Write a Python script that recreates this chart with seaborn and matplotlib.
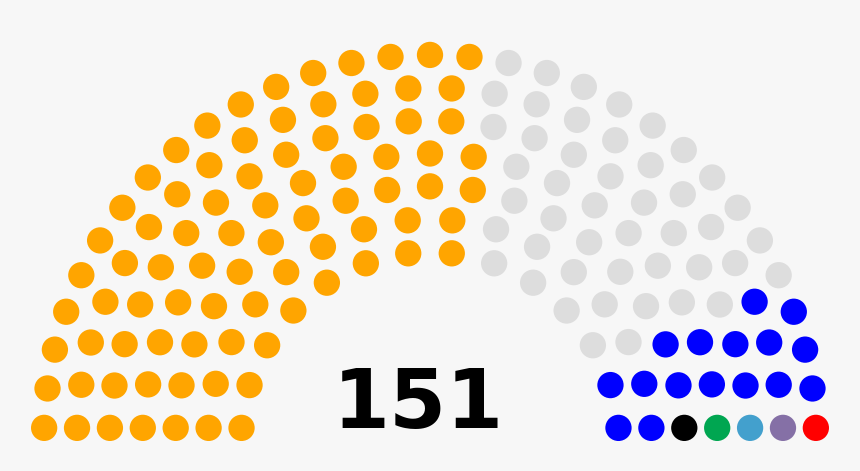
import math
import numpy as np
import pandas as pd
import seaborn as sns
import matplotlib
matplotlib.use("Agg")
import matplotlib.pyplot as plt

# seats per party, in the order they are laid out (left to right)
parties = ["Orange", "Grey", "Blue", "Black", "Green", "Light blue", "Purple", "Red"]
seats = [84, 46, 16, 1, 1, 1, 1, 1]
colors = ["#FFA500", "#DDDDDD", "#0000FF", "#000000", "#00A651", "#43A0CD", "#8570A6", "#FF0000"]
total_label = "151"

# row capacities used by the arch layout
totals = [3, 15, 33, 61, 95, 138, 189, 247, 313, 388, 469, 559]


def arch_positions(n):
    '''
    Seat centres for an n-seat half circle, sorted left to right
    '''
    rows = next(i for i, t in enumerate(totals) if n <= t) + 1
    radius = 0.4 / rows
    pos = []
    for i in range(1, rows):
        J = int(float(n) / totals[rows - 1] * math.pi / (2 * math.asin(2.0 / (3.0 * rows + 4.0 * i - 2.0))))
        R = (3.0 * rows + 4.0 * i - 2.0) / (4.0 * rows)
        for j in range(J):
            a = j * (math.pi - 2.0 * math.sin(radius / R)) / (J - 1.0) + math.sin(radius / R)
            pos.append((a, R * math.cos(a), R * math.sin(a)))
    J = n - len(pos)
    R = (7.0 * rows - 2.0) / (4.0 * rows)
    for j in range(J):
        a = j * (math.pi - 2.0 * math.sin(radius / R)) / (J - 1.0) + math.sin(radius / R)
        pos.append((a, R * math.cos(a), R * math.sin(a)))
    pos.sort(reverse=True)
    return pos, radius


n_seats = sum(seats)
pos, dot_r = arch_positions(n_seats)
df = pd.DataFrame(pos, columns=["angle", "x", "y"])
df["party"] = np.repeat(parties, seats)

fig = plt.figure(figsize=(8.6, 4.71), dpi=100, facecolor="#F7F7F7")
ax = fig.add_axes([0, 0, 1, 1])
ax.set_facecolor("#F7F7F7")

scale = 230.0  # pixels per unit
ax.set_xlim(-430 / scale, 430 / scale)
ax.set_ylim(-30 / scale, 441 / scale)

# marker diameter in points
diam_pt = 2 * dot_r * scale * 72 / 100
sns.scatterplot(
    data=df, x="x", y="y", hue="party",
    hue_order=parties, palette=colors,
    s=diam_pt ** 2, linewidth=0, legend=False, ax=ax
)

ax.text(-12 / scale, 13 / scale, total_label, ha="center", va="baseline",
        fontsize=59, fontweight="bold", family="DejaVu Sans", color="black")

ax.set_axis_off()
fig.savefig("out.png", dpi=100, facecolor=fig.get_facecolor())
